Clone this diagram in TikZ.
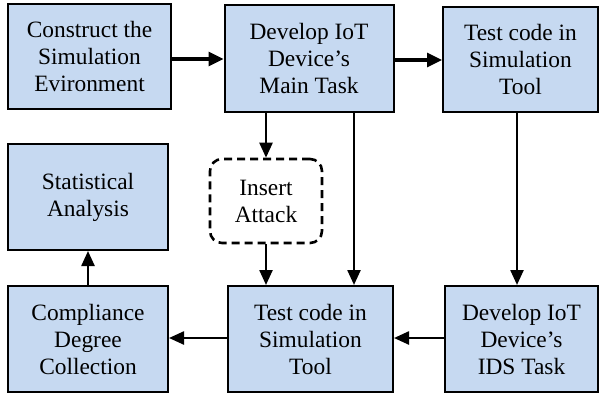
\documentclass[tikz,border=0pt]{standalone}
\usepackage{fontspec}
\setmainfont{Liberation Serif}
\usetikzlibrary{arrows.meta}
\definecolor{boxfill}{HTML}{C6D9F1}
\tikzset{
  blk/.style={draw=black, fill=boxfill, line width=2pt, align=center, inner sep=0pt,
    font=\fontsize{23.4}{27}\selectfont},
  dsh/.style={draw=black, line width=2.6pt, dash pattern=on 8pt off 5pt, rounded corners=12pt,
    align=center, inner sep=0pt, font=\fontsize{23.4}{27}\selectfont},
  arr/.style={line width=2.4pt, -{Triangle[length=15pt,width=13pt]}},
  tarr/.style={line width=3.2pt, -{Triangle[length=15pt,width=14pt]}}
}
\begin{document}
\begin{tikzpicture}[x=1pt,y=-1pt]
\useasboundingbox (0,0) rectangle (601,395);
\node[blk, minimum width=163pt, minimum height=105pt] (c) at (89.5,56.5) {Construct the\\Simulation\\Evironment};
\node[blk, minimum width=169pt, minimum height=107pt] (d) at (309,58.5) {Develop IoT\\Device’s\\Main Task};
\node[blk, minimum width=155pt, minimum height=105pt] (t) at (520.5,59.5) {Test code in\\Simulation\\Tool};
\node[blk, minimum width=160pt, minimum height=106pt] (s) at (88,197) {Statistical\\Analysis};
\node[dsh, minimum width=112pt, minimum height=84pt] (i) at (266,201) {Insert\\Attack};
\node[blk, minimum width=160pt, minimum height=106pt] (cd) at (88,339) {Compliance\\Degree\\Collection};
\node[blk, minimum width=165pt, minimum height=106pt] (tm) at (310.5,339) {Test code in\\Simulation\\Tool};
\node[blk, minimum width=153pt, minimum height=106pt] (ids) at (521.5,339) {Develop IoT\\Device’s\\IDS Task};
\draw[tarr] (c.east |- 0,59) -- (d.west |- 0,59);
\draw[tarr] (d.east |- 0,60) -- (t.west |- 0,60);
\draw[arr] (d.south -| 266,0) -- (i.north -| 266,0);
\draw[arr] (i.south -| 266,0) -- (tm.north -| 266,0);
\draw[arr] (d.south -| 354,0) -- (tm.north -| 354,0);
\draw[arr] (t.south -| 517,0) -- (ids.north -| 517,0);
\draw[arr] (ids.west |- 0,338) -- (tm.east |- 0,338);
\draw[arr] (tm.west |- 0,338) -- (cd.east |- 0,338);
\draw[arr] (cd.north -| 88,0) -- (s.south -| 88,0);
\end{tikzpicture}
\end{document}
